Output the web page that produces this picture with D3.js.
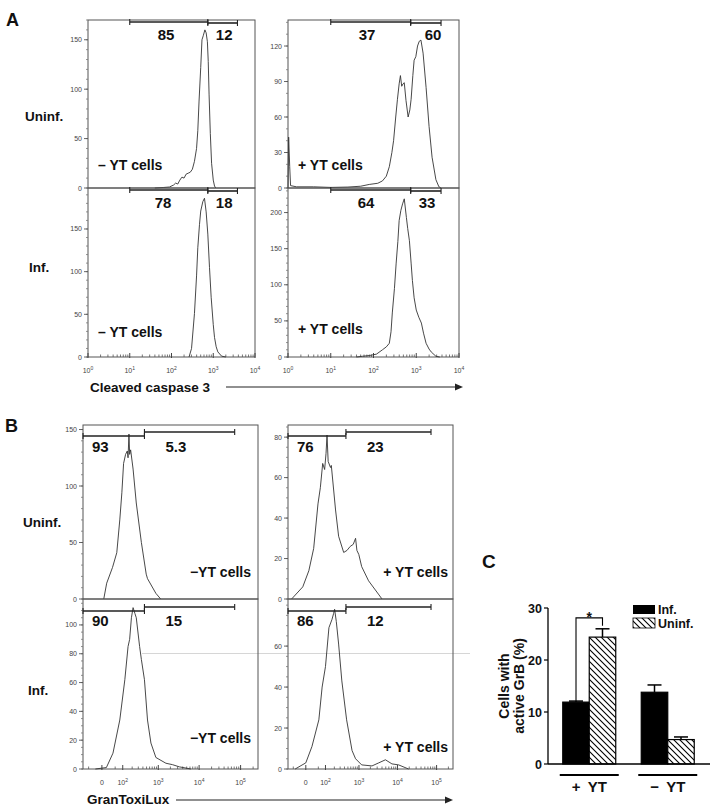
<!DOCTYPE html>
<html><head><meta charset="utf-8">
<script src="https://cdn.jsdelivr.net/npm/d3@7"></script>
<style>body{margin:0;background:#fff}svg{display:block}</style>
</head><body><svg id="c" width="714" height="812"></svg>
<script>
// ================= DATA =================
// Panel A: cleaved caspase 3 histograms, [log10 intensity, cell count]
const aDecades = [0, 1, 2, 3, 4];
const aHistUninfNoYT = [[1.6,0],[1.8,0.5],[1.95,1],[2.05,3],[2.1,5],[2.15,4],[2.2,8],[2.25,11],[2.3,10],[2.35,14],[2.4,15],[2.45,16],[2.5,19],[2.55,27],[2.6,40],[2.63,58],[2.66,88],[2.7,122],[2.73,150],[2.76,154],[2.8,160],[2.83,157],[2.86,148],[2.88,128],[2.9,95],[2.93,55],[2.96,25],[3.0,8],[3.03,2],[3.06,0]];
const aHistUninfYT = [[0,0],[0.015,43],[0.04,18],[0.06,2],[0.2,1],[0.6,1],[1.0,0.5],[1.4,0.8],[1.7,1.5],[1.9,3],[2.1,4],[2.21,6],[2.3,10],[2.37,18],[2.43,30],[2.47,40],[2.52,60],[2.56,75],[2.6,88],[2.63,95],[2.66,86],[2.69,88],[2.72,89],[2.76,74],[2.81,60],[2.85,66],[2.88,75],[2.92,95],[2.95,108],[2.99,111],[3.03,120],[3.07,124],[3.11,125],[3.16,114],[3.23,85],[3.3,52],[3.37,26],[3.46,7],[3.53,1],[3.58,0]];
const aHistInfNoYT = [[2.42,0],[2.48,10],[2.55,51],[2.6,95],[2.63,128],[2.67,155],[2.7,171],[2.75,182],[2.79,186],[2.83,170],[2.87,144],[2.91,105],[2.95,70],[3.0,38],[3.03,23],[3.07,12],[3.11,6],[3.2,1],[3.3,0]];
const aHistInfYT = [[1.6,0],[1.74,1],[1.9,2],[2.07,4],[2.21,10],[2.3,14],[2.37,19],[2.41,35],[2.44,61],[2.49,95],[2.53,130],[2.57,160],[2.6,189],[2.64,203],[2.68,212],[2.72,219],[2.77,193],[2.8,178],[2.84,161],[2.88,130],[2.91,106],[2.95,82],[3.0,65],[3.06,55],[3.12,47],[3.17,33],[3.23,19],[3.3,11],[3.35,7],[3.46,1],[3.55,0]];
const aGateLog = [1.0, 2.87, 3.58];
const aPctUninfNoYT = ["85", "12"];
const aPctUninfYT = ["37", "60"];
const aPctInfNoYT = ["78", "18"];
const aPctInfYT = ["64", "33"];
const aYTicksUninfNoYT = [0, 50, 100, 150];
const aYTicksUninfYT = [0, 30, 60, 90, 120];
const aYTicksInfNoYT = [0, 50, 100, 150];
const aYTicksInfYT = [0, 50, 100, 150, 200];

// Panel B: GranToxiLux histograms, [intensity, cell count]
const bTickValues = [0, 100, 1000, 10000, 100000];
const bTickExp = [null, "2", "3", "4", "5"];
const bHistUninfNoYT = [[5,0],[14,14],[37,28],[59,41],[78,70],[93,94],[107,120],[125,128],[142,131],[150,125],[160,146],[168,128],[180,132],[213,115],[263,85],[364,50],[490,22],[530,18],[870,5],[1150,0]];
const bHistUninfYT = [[-60,0],[-9,6],[9,14],[27,25],[48,47],[62,55],[78,67],[93,64],[105,72],[114,81],[125,68],[150,65],[160,66],[218,44],[270,31],[380,23],[470,24],[580,26],[700,27],[810,30],[880,24],[990,22],[1180,16],[1790,9],[3350,2],[4000,0]];
const bHistInfNoYT = [[-20,0],[13,1],[39,11],[78,34],[118,62],[150,85],[168,90],[190,105],[213,112],[240,108],[263,105],[326,85],[364,76],[440,62],[530,34],[650,18],[870,8],[1550,4],[2260,3],[3300,1.5],[6300,0]];
const bHistInfYT = [[-40,0],[0,3],[20,11],[53,24],[74,40],[100,50],[133,69],[168,73],[190,76],[204,78],[230,72],[270,61],[336,43],[460,24],[650,9],[810,5],[1180,2],[2200,1.5],[3300,3],[4900,4.5],[7200,2.5],[10700,2],[19200,0]];
const bGate = [-85, 440, 72000];
const bPctUninfNoYT = ["93", "5.3"];
const bPctUninfYT = ["76", "23"];
const bPctInfNoYT = ["90", "15"];
const bPctInfYT = ["86", "12"];
const bYTicksUninfNoYT = [0, 50, 100, 150];
const bYTicksUninfYT = [0, 20, 40, 60, 80];
const bYTicksInfNoYT = [0, 20, 40, 60, 80, 100];
const bYTicksInfYT = [0, 20, 40, 60];

// Panel C: cells with active GrB (%)
const cGroups = ["+ YT", "− YT"];
const cSeries = ["Inf.", "Uninf."];
const cInfMean = [11.9, 13.8];
const cInfErr = [0.2, 1.4];
const cUninfMean = [24.4, 4.7];
const cUninfErr = [1.6, 0.5];
const cYTicks = [0, 10, 20, 30];

// ================= DRAWING =================
const FONT = '"Liberation Sans", Arial, Helvetica, sans-serif';
const svg = d3.select("#c");
svg.append("rect").attr("width", 714).attr("height", 812).attr("fill", "#fff");
const defs = svg.append("defs");
const pat = defs.append("pattern").attr("id", "hatch").attr("patternUnits", "userSpaceOnUse")
  .attr("width", 6).attr("height", 6);
pat.append("rect").attr("width", 6).attr("height", 6).attr("fill", "#fff");
pat.append("path").attr("d", "M0,0L6,6M-1,5L1,7M5,-1L7,1").attr("stroke", "#000").attr("stroke-width", 1.1);

function txt(x, y, s, size, opts = {}) {
  return svg.append("text").attr("x", x).attr("y", y).text(s)
    .attr("font-family", FONT).attr("font-size", size)
    .attr("font-weight", opts.weight || "bold")
    .attr("fill", opts.fill || "#111")
    .attr("text-anchor", opts.anchor || "start");
}

function drawHist(o) {
  const g = svg.append("g");
  const y = d3.scaleLinear().domain([0, o.yMax]).range([o.y1, o.y0]);
  const x = o.x;
  // frame
  g.append("rect").attr("x", o.x0).attr("y", o.y0).attr("width", o.x1 - o.x0).attr("height", o.y1 - o.y0)
    .attr("fill", "none").attr("stroke", "#555").attr("stroke-width", 1);
  // y minor ticks
  for (let v = 0; v <= o.yMax; v += o.yMinor) {
    g.append("line").attr("x1", o.x0 - 2).attr("x2", o.x0).attr("y1", y(v)).attr("y2", y(v))
      .attr("stroke", "#777").attr("stroke-width", 0.8);
  }
  // y major ticks
  o.yTicks.forEach(v => {
    g.append("line").attr("x1", o.x0 - 4).attr("x2", o.x0).attr("y1", y(v)).attr("y2", y(v))
      .attr("stroke", "#555").attr("stroke-width", 0.9);
    g.append("text").attr("x", o.x0 - 6).attr("y", y(v) + 2.5).text(v)
      .attr("font-family", FONT).attr("font-size", 7).attr("fill", "#444").attr("text-anchor", "end");
  });
  // x ticks (bottom row only)
  if (o.showX) {
    o.xMinor.forEach(v => {
      g.append("line").attr("x1", x(v)).attr("x2", x(v)).attr("y1", o.y1).attr("y2", o.y1 - 2.5)
        .attr("stroke", "#555").attr("stroke-width", 0.8);
    });
    o.xMajor.forEach((v, i) => {
      g.append("line").attr("x1", x(v)).attr("x2", x(v)).attr("y1", o.y1 + 1).attr("y2", o.y1 - 4)
        .attr("stroke", "#444").attr("stroke-width", 1);
      const t = g.append("text").attr("x", x(v)).attr("y", o.y1 + 16)
        .attr("font-family", FONT).attr("font-size", 7).attr("fill", "#444").attr("text-anchor", "middle");
      const e = o.xExp[i];
      if (e === null) { t.text("0"); }
      else {
        t.append("tspan").text("10");
        t.append("tspan").text(e).attr("font-size", 5).attr("dy", -3);
      }
    });
  }
  // histogram curve
  g.append("path").datum(o.data)
    .attr("d", d3.line().x(d => x(o.fx(d[0]))).y(d => y(d[1])))
    .attr("fill", "none").attr("stroke", "#333").attr("stroke-width", 0.9);
  // gates
  const gx = o.gate.map(v => x(o.fx(v)));
  [[gx[0], gx[1], o.gateY[0]], [gx[1], gx[2], o.gateY[1]]].forEach(([a, b, gy]) => {
    g.append("line").attr("x1", a).attr("x2", b).attr("y1", gy).attr("y2", gy)
      .attr("stroke", "#222").attr("stroke-width", 1.6);
    [a, b].forEach(xx => g.append("line").attr("x1", xx).attr("x2", xx).attr("y1", gy - 3).attr("y2", gy + 3)
      .attr("stroke", "#222").attr("stroke-width", 1.1));
  });
  txt(gx[0] + o.pctDx[0], o.pctY, o.pct[0], 15);
  txt(gx[1] + o.pctDx[1], o.pctY, o.pct[1], 15);
  // note
  txt(o.noteX, o.noteY, o.note, 14, { anchor: o.noteAnchor || "start" });
}

// ---- Panel A ----
const aLog = d => Math.pow(10, d);
const aMinor = [];
for (let k = 0; k < 4; k++) for (let m = 2; m <= 9; m++) aMinor.push(m * Math.pow(10, k));
const aMajor = aDecades.map(d => Math.pow(10, d));
const aLeftX = d3.scaleLog().domain([1, 1e4]).range([88, 255]);
const aRightX = d3.scaleLog().domain([1, 1e4]).range([288, 459]);

drawHist({ x0: 88, x1: 255, y0: 20, y1: 188, x: aLeftX, fx: aLog, yMax: 170, yTicks: aYTicksUninfNoYT, yMinor: 10,
  data: aHistUninfNoYT, gate: aGateLog, gateY: [22, 23], pct: aPctUninfNoYT, pctDx: [28, 8], pctY: 40,
  note: "– YT cells", noteX: 98, noteY: 170, showX: false });
drawHist({ x0: 288, x1: 459, y0: 20, y1: 188, x: aRightX, fx: aLog, yMax: 142, yTicks: aYTicksUninfYT, yMinor: 10,
  data: aHistUninfYT, gate: aGateLog, gateY: [22, 23], pct: aPctUninfYT, pctDx: [28, 14], pctY: 40,
  note: "+ YT cells", noteX: 298, noteY: 170, showX: false });
drawHist({ x0: 88, x1: 255, y0: 188, y1: 357, x: aLeftX, fx: aLog, yMax: 198, yTicks: aYTicksInfNoYT, yMinor: 10,
  data: aHistInfNoYT, gate: aGateLog, gateY: [190, 191], pct: aPctInfNoYT, pctDx: [25, 8], pctY: 208,
  note: "– YT cells", noteX: 98, noteY: 337, showX: true, xMajor: aMajor, xMinor: aMinor, xExp: ["0","1","2","3","4"] });
drawHist({ x0: 288, x1: 459, y0: 188, y1: 357, x: aRightX, fx: aLog, yMax: 234, yTicks: aYTicksInfYT, yMinor: 10,
  data: aHistInfYT, gate: aGateLog, gateY: [190, 191], pct: aPctInfYT, pctDx: [27, 8], pctY: 208,
  note: "+ YT cells", noteX: 298, noteY: 334, showX: true, xMajor: aMajor, xMinor: aMinor, xExp: ["0","1","2","3","4"] });

txt(6, 26, "A", 18);
txt(25, 121, "Uninf.", 13.5);
txt(29, 272, "Inf.", 13.5);
txt(90, 392, "Cleaved caspase 3", 13.5);
svg.append("line").attr("x1", 226).attr("x2", 456).attr("y1", 387).attr("y2", 387).attr("stroke", "#222").attr("stroke-width", 1.2);
svg.append("path").attr("d", "M463,387L455,383.5L455,390.5Z").attr("fill", "#222");

// ---- Panel B ----
const bId = d => d;
const bMinor = [-50, 50];
for (let k = 2; k < 5; k++) for (let m = 2; m <= 9; m++) bMinor.push(m * Math.pow(10, k));
bMinor.push(200000);
const bLeftX = d3.scaleSymlog().constant(46).domain([-85, 262144]).range([83, 258]);
const bRightX = d3.scaleSymlog().constant(46).domain([-85, 262144]).range([288, 453]);

// faint scan artifact line
svg.append("line").attr("x1", 142).attr("x2", 470).attr("y1", 653.5).attr("y2", 653.5).attr("stroke", "#ccc").attr("stroke-width", 0.8);

drawHist({ x0: 83, x1: 258, y0: 425, y1: 599, x: bLeftX, fx: bId, yMax: 154, yTicks: bYTicksUninfNoYT, yMinor: 10,
  data: bHistUninfNoYT, gate: bGate, gateY: [436, 432], pct: bPctUninfNoYT, pctDx: [9, 21], pctY: 452,
  note: "−YT cells", noteX: 251, noteY: 577, noteAnchor: "end", showX: false });
drawHist({ x0: 288, x1: 453, y0: 425, y1: 599, x: bRightX, fx: bId, yMax: 86, yTicks: bYTicksUninfYT, yMinor: 5,
  data: bHistUninfYT, gate: bGate, gateY: [436, 432], pct: bPctUninfYT, pctDx: [9, 21], pctY: 452,
  note: "+ YT cells", noteX: 448, noteY: 577, noteAnchor: "end", showX: false });
drawHist({ x0: 83, x1: 258, y0: 599, y1: 769, x: bLeftX, fx: bId, yMax: 118, yTicks: bYTicksInfNoYT, yMinor: 5,
  data: bHistInfNoYT, gate: bGate, gateY: [611, 607], pct: bPctInfNoYT, pctDx: [9, 21], pctY: 626,
  note: "−YT cells", noteX: 251, noteY: 743, noteAnchor: "end", showX: true, xMajor: bTickValues, xMinor: bMinor, xExp: bTickExp });
drawHist({ x0: 288, x1: 453, y0: 599, y1: 769, x: bRightX, fx: bId, yMax: 83, yTicks: bYTicksInfYT, yMinor: 5,
  data: bHistInfYT, gate: bGate, gateY: [611, 607], pct: bPctInfYT, pctDx: [9, 21], pctY: 626,
  note: "+ YT cells", noteX: 448, noteY: 752, noteAnchor: "end", showX: true, xMajor: bTickValues, xMinor: bMinor, xExp: bTickExp });

txt(5, 432, "B", 18);
txt(23, 527, "Uninf.", 13.5);
txt(28, 695, "Inf.", 13.5);
txt(87, 804, "GranToxiLux", 13.5);
svg.append("line").attr("x1", 176).attr("x2", 446).attr("y1", 800).attr("y2", 800).attr("stroke", "#222").attr("stroke-width", 1.2);
svg.append("path").attr("d", "M453,800L445,796.5L445,803.5Z").attr("fill", "#222");

// ---- Panel C ----
txt(482, 568, "C", 19);
const cy = d3.scaleLinear().domain([0, 30]).range([764, 608]);
const cx = d3.scaleBand().domain(cGroups).range([550, 707]).paddingInner(0.325).paddingOuter(0.1625);
const cxi = d3.scaleBand().domain(cSeries).range([0, cx.bandwidth()]);
const cMean = [cInfMean, cUninfMean];
const cErr = [cInfErr, cUninfErr];
const cFill = ["#000", "url(#hatch)"];
cGroups.forEach((grp, gi) => {
  cSeries.forEach((s, si) => {
    const x0 = cx(grp) + cxi(s), w = cxi.bandwidth();
    const v = cMean[si][gi], e = cErr[si][gi];
    const xc = x0 + w / 2;
    svg.append("line").attr("x1", xc).attr("x2", xc).attr("y1", cy(v)).attr("y2", cy(v + e)).attr("stroke", "#000").attr("stroke-width", 1.5);
    svg.append("line").attr("x1", xc - 7).attr("x2", xc + 7).attr("y1", cy(v + e)).attr("y2", cy(v + e)).attr("stroke", "#000").attr("stroke-width", 1.5);
    svg.append("rect").attr("x", x0).attr("y", cy(v)).attr("width", w).attr("height", cy(0) - cy(v))
      .attr("fill", cFill[si]).attr("stroke", "#000").attr("stroke-width", 1.2);
  });
  // group underline + label
  svg.append("line").attr("x1", cx(grp) - 3).attr("x2", cx(grp) + cx.bandwidth() + 3).attr("y1", 775).attr("y2", 775)
    .attr("stroke", "#000").attr("stroke-width", 2);
  const parts = grp.split(" ");
  const mid = cx(grp) + cx.bandwidth() / 2;
  txt(mid - 13, 792, parts[0], 15, { anchor: "middle" });
  txt(mid + 8, 792, parts[1], 15, { anchor: "middle" });
});
// axes
svg.append("line").attr("x1", 548).attr("x2", 548).attr("y1", cy(30)).attr("y2", cy(0)).attr("stroke", "#000").attr("stroke-width", 1.3);
svg.append("line").attr("x1", 548).attr("x2", 710).attr("y1", cy(0)).attr("y2", cy(0)).attr("stroke", "#000").attr("stroke-width", 1.3);
cYTicks.forEach(v => {
  svg.append("line").attr("x1", 544).attr("x2", 548).attr("y1", cy(v)).attr("y2", cy(v)).attr("stroke", "#000").attr("stroke-width", 1.2);
  txt(542, cy(v) + 4.5, String(v), 12.5, { anchor: "end" });
});
// y label
svg.append("text").attr("transform", "translate(509,686) rotate(-90)").attr("text-anchor", "middle")
  .attr("font-family", FONT).attr("font-size", 14).attr("font-weight", "bold").attr("fill", "#111").text("Cells with");
svg.append("text").attr("transform", "translate(524,686) rotate(-90)").attr("text-anchor", "middle")
  .attr("font-family", FONT).attr("font-size", 14).attr("font-weight", "bold").attr("fill", "#111").text("active GrB (%)");
// significance bracket
const g0 = cGroups[0];
const bxA = cx(g0) + cxi(cSeries[0]) + cxi.bandwidth() / 2;
const bxB = cx(g0) + cxi(cSeries[1]) + cxi.bandwidth() / 2;
svg.append("path").attr("d", `M${bxA},${cy(cInfMean[0] + cInfErr[0])}V${cy(28.1)}H${bxB}V${cy(26.6)}`)
  .attr("fill", "none").attr("stroke", "#000").attr("stroke-width", 1.1);
txt((bxA + bxB) / 2, 622, "*", 14, { anchor: "middle" });
// legend
svg.append("rect").attr("x", 633).attr("y", 605).attr("width", 22).attr("height", 9).attr("fill", "#000");
svg.append("rect").attr("x", 633).attr("y", 618).attr("width", 22).attr("height", 10).attr("fill", "url(#hatch)").attr("stroke", "#000").attr("stroke-width", 0.8);
txt(658, 614, cSeries[0], 12.5);
txt(658, 628, cSeries[1], 12.5);
</script>
</body></html>
